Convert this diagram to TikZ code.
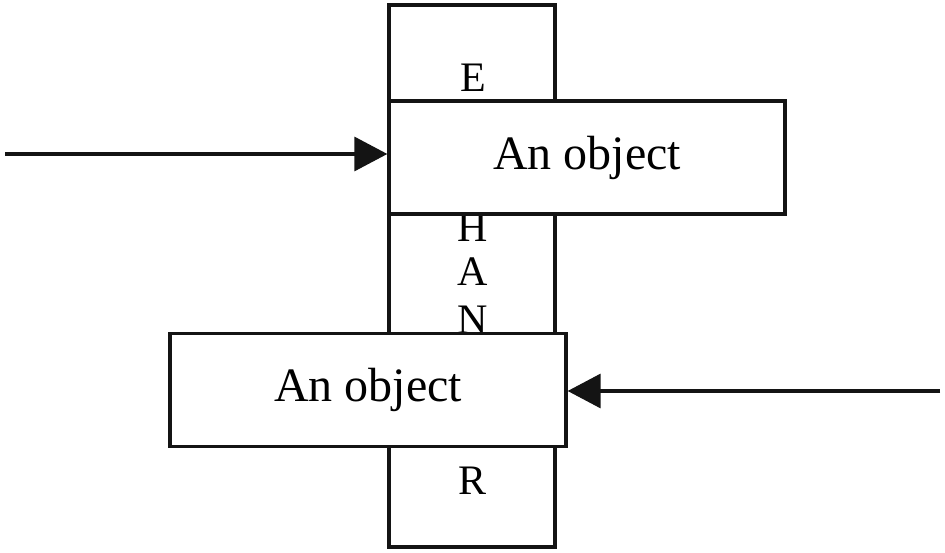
\documentclass[tikz,border=0pt]{standalone}
\usepackage{fontspec}
\setmainfont{Liberation Serif}
\usetikzlibrary{arrows.meta, positioning}
\definecolor{colBorder}{RGB}{20,20,20}
\tikzset{
  tallBox/.style={
    rectangle, draw=colBorder, line width=3.3pt,
    minimum width=166pt, minimum height=542pt,
    inner sep=0pt
  },
  objBox/.style={
    rectangle, draw=colBorder, line width=3.3pt,
    fill=white,
    minimum width=396pt, minimum height=113pt,
    inner sep=0pt, font=\fontsize{48}{54}\selectfont
  },
  letter/.style={
    font=\fontsize{42}{48}\selectfont, inner sep=0pt
  },
  arr/.style={
    -{Triangle[length=33pt, width=34pt]}, line width=3.3pt, color=colBorder
  }
}
\begin{document}
\begin{tikzpicture}[x=1pt, y=-1pt]
  \useasboundingbox (0,0) rectangle (945,553);

  \node[tallBox] (exch) at (472,276) {};

  % visible letters of the tall box
  \node[letter] (lE) at (473,78) {E};
  \node[letter] (lH) at (473,228) {H};
  \node[letter] (lA) at (473,272) {A};
  \node[letter] (lN) at (473,320) {N};
  \node[letter] (lR) at (473,481) {R};

  \node[objBox] (obj1) at (587,157.5) {An object};
  \node[objBox] (obj2) at (368,390) {An object};

  \coordinate (in1) at (5,154);
  \coordinate (in2) at (940,391);

  \draw[arr] (in1) -- (obj1.west |- in1);
  \draw[arr] (in2) -- (obj2.east |- in2);

\end{tikzpicture}
\end{document}
